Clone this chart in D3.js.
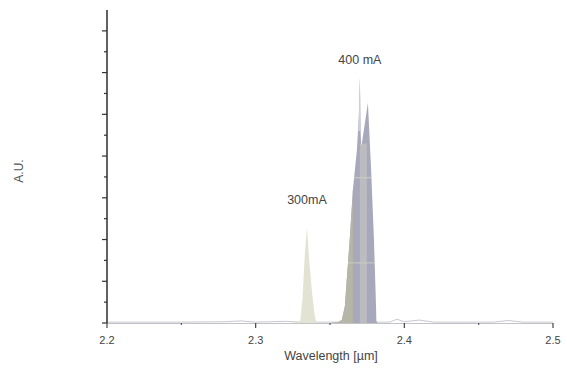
<!DOCTYPE html>
<html>
<head>
<meta charset="utf-8">
<script src="https://cdn.jsdelivr.net/npm/d3@7"></script>
<style>
  body { margin: 0; background: #fff; }
  svg { display: block; font-family: "Liberation Sans", Arial, sans-serif; }
</style>
</head>
<body>
<svg id="chart" width="567" height="374"></svg>
<script>
// data (wavelength in um, intensity in a.u.)
const xMajorTicks = [2.2, 2.3, 2.4, 2.5]
const xMinorTicks = [2.25, 2.35, 2.45]
const yMajorTicks = [0, 1, 2, 3, 4, 5, 6, 7]
const yMinorTicks = [0.5, 1.5, 2.5, 3.5, 4.5, 5.5, 6.5]

const baseline = [[2.2, 0.02], [2.25, 0.02], [2.28, 0.03], [2.29, 0.05], [2.30, 0.02], [2.32, 0.04], [2.33, 0.02],
  [2.39, 0.02], [2.395, 0.09], [2.40, 0.03], [2.405, 0.05], [2.41, 0.07], [2.42, 0.02], [2.46, 0.02], [2.47, 0.06], [2.48, 0.02], [2.5, 0.02]]

const peak300 = [[2.325, 0], [2.330, 0.05], [2.3315, 0.6], [2.3330, 1.6], [2.3345, 2.3], [2.3360, 1.5], [2.3380, 0.7], [2.3398, 0.15], [2.3410, 0], [2.345, 0]]

// 400 mA: outer envelope of the overlapping traces
const peak400 = [[2.350, 0], [2.3555, 0.02], [2.3580, 0.08], [2.3600, 0.4], [2.3612, 1.0], [2.3634, 2.06], [2.3654, 3.19], [2.3681, 4.15],
  [2.3695, 5.0], [2.3701, 5.88], [2.3706, 4.6], [2.3710, 4.2], [2.3755, 5.28], [2.3775, 3.8], [2.3795, 2.06],
  [2.3808, 0.6], [2.3812, 0.05], [2.3820, 0]]
// shades seen inside the envelope: [from, to, top, colour]
const bandFrom = [2.350, 2.3701]
const bandTo = [2.3654, 2.3748]
const bandTop = [7.5, 4.3]
const bandFill = ["#b6b6a6", "#bbbbc0"]
const stitchLevels = [1.44, 3.48]
const peak400Tip = [[2.3690, 4.6], [2.3701, 5.88], [2.3705, 4.8]]

const labels = [{ text: "400 mA", w: 2.3701, v: 6.2 }, { text: "300mA", w: 2.3345, v: 2.85 }]

const svg = d3.select("#chart")
const x = d3.scaleLinear().domain([2.2, 2.5]).range([107, 553])
const y = d3.scaleLinear().domain([0, 7.5]).range([323, 10])

const area = d3.area().x(d => x(d[0])).y0(y(0)).y1(d => y(d[1]))
const line = d3.line().x(d => x(d[0])).y(d => y(d[1]))

svg.append("clipPath").attr("id", "clip400")
  .append("path").attr("d", area(peak400))

// x axis line
svg.append("line")
  .attr("x1", x(2.2)).attr("x2", x(2.5))
  .attr("y1", y(0) + 0.5).attr("y2", y(0) + 0.5)
  .attr("stroke", "#c4c4c8").attr("stroke-width", 1.2)

svg.append("path").datum(baseline)
  .attr("d", line).attr("fill", "none")
  .attr("stroke", "#c8c8d0").attr("stroke-width", 1)

svg.append("path").attr("d", area(peak300)).attr("fill", "#e3e3d4")
svg.append("path").attr("d", area(peak400)).attr("fill", "#a8a8bc")

const inner = svg.append("g").attr("clip-path", "url(#clip400)")
inner.selectAll("rect")
  .data(bandFrom)
  .join("rect")
  .attr("x", (d, i) => x(d))
  .attr("width", (d, i) => x(bandTo[i]) - x(d))
  .attr("y", (d, i) => y(bandTop[i]))
  .attr("height", (d, i) => y(0) - y(bandTop[i]))
  .attr("fill", (d, i) => bandFill[i])
inner.selectAll("line")
  .data(stitchLevels)
  .join("line")
  .attr("x1", x(2.35)).attr("x2", x(2.39))
  .attr("y1", d => y(d)).attr("y2", d => y(d))
  .attr("stroke", "#cdcdc4").attr("stroke-width", 1)

// pale tip of the left spike
svg.append("path")
  .attr("d", d3.area().x(d => x(d[0])).y0(y(4.6)).y1(d => y(d[1]))(peak400Tip))
  .attr("fill", "#cfcfda")

// y axis
const yAxis = svg.append("g")
  .attr("transform", `translate(${x(2.2)},0)`)
yAxis.append("line")
  .attr("x1", 0).attr("x2", 0)
  .attr("y1", y(7.5)).attr("y2", y(0))
  .attr("stroke", "#3a3a3a").attr("stroke-width", 1.6)
yAxis.selectAll("line.major")
  .data(yMajorTicks)
  .join("line")
  .attr("class", "major")
  .attr("x1", -5).attr("x2", 0)
  .attr("y1", d => y(d)).attr("y2", d => y(d))
  .attr("stroke", "#333").attr("stroke-width", 1.2)
yAxis.selectAll("line.minor")
  .data(yMinorTicks)
  .join("line")
  .attr("class", "minor")
  .attr("x1", -3).attr("x2", 0)
  .attr("y1", d => y(d)).attr("y2", d => y(d))
  .attr("stroke", "#333").attr("stroke-width", 1.2)

// x ticks
const xAxis = svg.append("g").attr("transform", `translate(0,${y(0)})`)
xAxis.selectAll("line.major")
  .data(xMajorTicks)
  .join("line")
  .attr("class", "major")
  .attr("x1", d => x(d)).attr("x2", d => x(d))
  .attr("y1", 0).attr("y2", 5)
  .attr("stroke", "#444").attr("stroke-width", 1.2)
xAxis.selectAll("line.minor")
  .data(xMinorTicks)
  .join("line")
  .attr("class", "minor")
  .attr("x1", d => x(d)).attr("x2", d => x(d))
  .attr("y1", 0).attr("y2", 2)
  .attr("stroke", "#556").attr("stroke-width", 1.2)
xAxis.selectAll("text")
  .data(xMajorTicks)
  .join("text")
  .attr("x", d => x(d))
  .attr("y", 21)
  .attr("text-anchor", "middle")
  .attr("font-size", 11)
  .attr("fill", "#444")
  .text(d => d3.format(".1f")(d))

svg.append("text")
  .attr("x", 331).attr("y", 360)
  .attr("text-anchor", "middle")
  .attr("font-size", 12.5)
  .attr("fill", "#444")
  .text("Wavelength [\u00b5m]")

svg.append("text")
  .attr("transform", "translate(23,171) rotate(-90)")
  .attr("text-anchor", "middle")
  .attr("font-size", 12)
  .attr("fill", "#555")
  .text("A.U.")

svg.append("g").selectAll("text")
  .data(labels)
  .join("text")
  .attr("x", d => x(d.w))
  .attr("y", d => y(d.v))
  .attr("text-anchor", "middle")
  .attr("font-size", 12.5)
  .attr("fill", "#444")
  .text(d => d.text)
</script>
</body>
</html>
